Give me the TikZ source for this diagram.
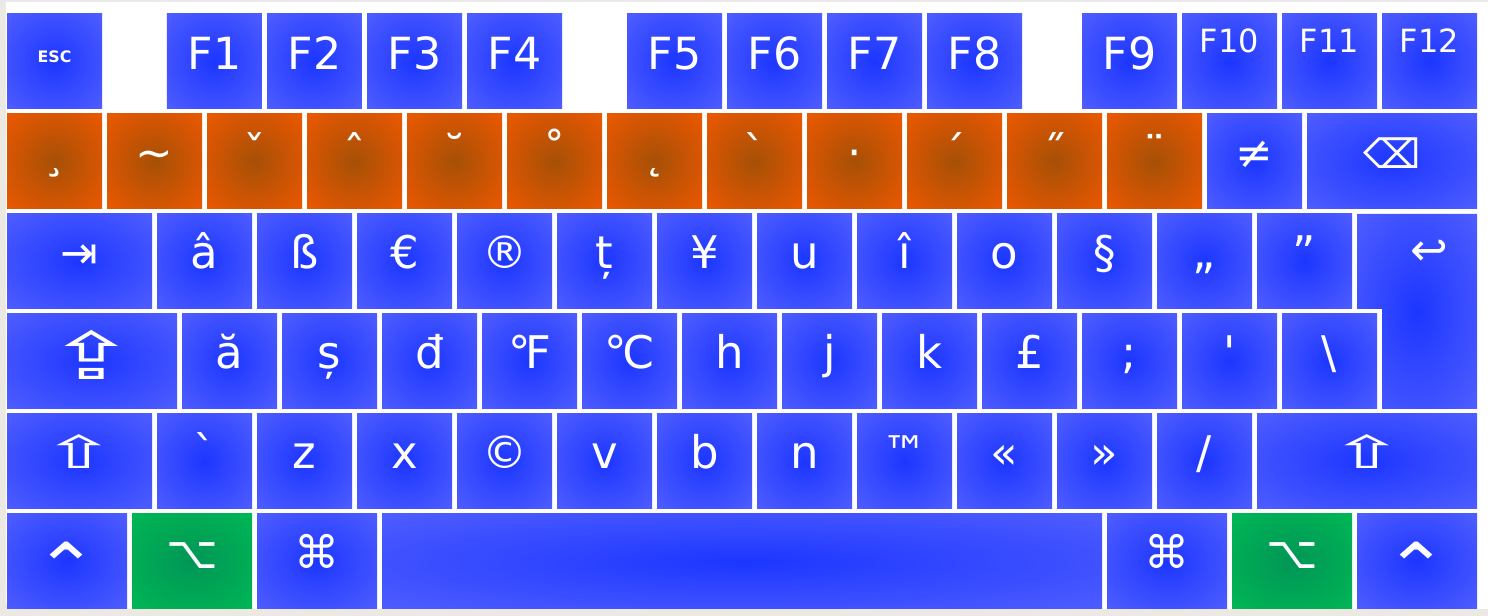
\documentclass[tikz,border=0pt]{standalone}
\usepackage{fontspec}
\setmainfont{DejaVu Sans}[Ligatures=TeXOff]
\definecolor{blueinner}{RGB}{28,54,255}
\definecolor{blueouter}{RGB}{100,110,255}
\definecolor{orginner}{RGB}{166,80,6}
\definecolor{orgouter}{RGB}{255,90,0}
\definecolor{grninner}{RGB}{0,150,86}
\definecolor{grnouter}{RGB}{0,196,84}
\definecolor{frame}{RGB}{236,232,226}
\pgfdeclareradialshading{keyblue}{\pgfpoint{0bp}{0bp}}{color(0bp)=(blueinner); color(50bp)=(blueouter)}
\pgfdeclareradialshading{keyorange}{\pgfpoint{0bp}{0bp}}{color(0bp)=(orginner); color(45bp)=(orgouter); color(50bp)=(orgouter)}
\pgfdeclareradialshading{keygreen}{\pgfpoint{0bp}{0bp}}{color(0bp)=(grninner); color(50bp)=(grnouter)}

\begin{document}
\begin{tikzpicture}[x=1cm,y=1cm,
  kb/.style={shading=keyblue},ko/.style={shading=keyorange},kg/.style={shading=keygreen},
  lbl/.style={anchor=base,inner sep=0pt,text=white,font=\fontsize{12.8}{15}\selectfont},
  fkey/.style={lbl,font=\fontsize{12.6}{15}\selectfont},
  fsmall/.style={lbl,font=\fontsize{9.1}{11}\selectfont},
  escfont/.style={lbl,font=\bfseries\fontsize{4.5}{5}\selectfont}]
\useasboundingbox (0,0) rectangle (14.88,-6.16);
% frame round the board
\fill[frame] (0,0) rectangle (14.88,-6.16);
\fill[black!9] (0,0) rectangle (14.88,-0.02);
\fill[white] (14.88,-0.02) -- (0.06,-0.02) -- (0.06,-5.9) [rounded corners=0.07cm] -- (0.06,-6.09) -- (1,-6.09) [sharp corners] -- (14.88,-6.09) -- cycle;
% function row
\shade[kb] (0.07,-0.14) rectangle (1.02,-1.09);
\node[escfont] (esc) at (0.545,-0.63) {ESC};
\shade[kb] (1.67,-0.14) rectangle (2.62,-1.09);
\node[fkey] (f1) at (2.145,-0.70) {F1};
\shade[kb] (2.67,-0.14) rectangle (3.62,-1.09);
\node[fkey] (f2) at (3.145,-0.70) {F2};
\shade[kb] (3.67,-0.14) rectangle (4.62,-1.09);
\node[fkey] (f3) at (4.145,-0.70) {F3};
\shade[kb] (4.67,-0.14) rectangle (5.62,-1.09);
\node[fkey] (f4) at (5.145,-0.70) {F4};
\shade[kb] (6.27,-0.14) rectangle (7.22,-1.09);
\node[fkey] (f5) at (6.745,-0.70) {F5};
\shade[kb] (7.27,-0.14) rectangle (8.22,-1.09);
\node[fkey] (f6) at (7.745,-0.70) {F6};
\shade[kb] (8.27,-0.14) rectangle (9.22,-1.09);
\node[fkey] (f7) at (8.745,-0.70) {F7};
\shade[kb] (9.27,-0.14) rectangle (10.22,-1.09);
\node[fkey] (f8) at (9.745,-0.70) {F8};
\shade[kb] (10.82,-0.14) rectangle (11.77,-1.09);
\node[fkey] (f9) at (11.295,-0.70) {F9};
\shade[kb] (11.82,-0.14) rectangle (12.77,-1.09);
\node[fsmall] (f10) at (12.295,-0.53) {F10};
\shade[kb] (12.82,-0.14) rectangle (13.77,-1.09);
\node[fsmall] (f11) at (13.295,-0.53) {F11};
\shade[kb] (13.82,-0.14) rectangle (14.77,-1.09);
\node[fsmall] (f12) at (14.295,-0.53) {F12};
% dead keys row
\shade[ko] (0.07,-1.14) rectangle (1.02,-2.09);
\node[lbl] (cedilla) at (0.545,-1.69) {¸};
\shade[ko] (1.07,-1.14) rectangle (2.02,-2.09);
\node[lbl] (tilde) at (1.545,-1.69) {\symbol{126}};
\shade[ko] (2.07,-1.14) rectangle (3.02,-2.09);
\node[lbl] (caron) at (2.545,-1.69) {ˇ};
\shade[ko] (3.07,-1.14) rectangle (4.02,-2.09);
\node[lbl] (circum) at (3.545,-1.69) {ˆ};
\shade[ko] (4.07,-1.14) rectangle (5.02,-2.09);
\node[lbl] (breve) at (4.545,-1.69) {˘};
\shade[ko] (5.07,-1.14) rectangle (6.02,-2.09);
\node[lbl] (ring) at (5.545,-1.69) {˚};
\shade[ko] (6.07,-1.14) rectangle (7.02,-2.09);
\node[lbl] (ogonek) at (6.545,-1.69) {˛};
\shade[ko] (7.07,-1.14) rectangle (8.02,-2.09);
\node[lbl] (grave) at (7.545,-1.69) {\symbol{96}};
\shade[ko] (8.07,-1.14) rectangle (9.02,-2.09);
\node[lbl] (middot) at (8.545,-1.69) {·};
\shade[ko] (9.07,-1.14) rectangle (10.02,-2.09);
\node[lbl] (acute) at (9.545,-1.69) {´};
\shade[ko] (10.07,-1.14) rectangle (11.02,-2.09);
\node[lbl] (dblacute) at (10.545,-1.69) {˝};
\shade[ko] (11.07,-1.14) rectangle (12.02,-2.09);
\node[lbl] (umlaut) at (11.545,-1.69) {¨};
\shade[kb] (12.07,-1.14) rectangle (13.02,-2.09);
\node[lbl] (neq) at (12.545,-1.69) {≠};
\shade[kb] (13.07,-1.14) rectangle (14.77,-2.09);
\node[lbl] (bksp) at (13.92,-1.69) {\scalebox{0.9}{⌫}};
% upper letter row
\shade[kb] (0.07,-2.14) rectangle (1.52,-3.09);
\node[lbl] (tab) at (0.795,-2.69) {⇥};
\shade[kb] (1.57,-2.14) rectangle (2.52,-3.09);
\node[lbl] (acirc) at (2.045,-2.69) {â};
\shade[kb] (2.57,-2.14) rectangle (3.52,-3.09);
\node[lbl] (eszett) at (3.045,-2.69) {ß};
\shade[kb] (3.57,-2.14) rectangle (4.52,-3.09);
\node[lbl] (euro) at (4.045,-2.69) {€};
\shade[kb] (4.57,-2.14) rectangle (5.52,-3.09);
\node[lbl] (regd) at (5.045,-2.69) {®};
\shade[kb] (5.57,-2.14) rectangle (6.52,-3.09);
\node[lbl] (tcomma) at (6.045,-2.69) {ț};
\shade[kb] (6.57,-2.14) rectangle (7.52,-3.09);
\node[lbl] (yen) at (7.045,-2.69) {¥};
\shade[kb] (7.57,-2.14) rectangle (8.52,-3.09);
\node[lbl] (u) at (8.045,-2.69) {u};
\shade[kb] (8.57,-2.14) rectangle (9.52,-3.09);
\node[lbl] (icirc) at (9.045,-2.69) {î};
\shade[kb] (9.57,-2.14) rectangle (10.52,-3.09);
\node[lbl] (o) at (10.045,-2.69) {o};
\shade[kb] (10.57,-2.14) rectangle (11.52,-3.09);
\node[lbl] (sect) at (11.045,-2.69) {§};
\shade[kb] (11.57,-2.14) rectangle (12.52,-3.09);
\node[lbl] (lowquote) at (12.045,-2.69) {„};
\shade[kb] (12.57,-2.14) rectangle (13.52,-3.09);
\node[lbl] (rquote) at (13.045,-2.69) {”};
\shade[kb] (13.57,-2.14) -- (14.77,-2.14) -- (14.77,-4.09) -- (13.82,-4.09) -- (13.82,-3.09) -- (13.57,-3.09) -- cycle;
\node[lbl] (enter) at (14.295,-2.66) {↩};
% home row
\shade[kb] (0.07,-3.14) rectangle (1.77,-4.09);
\node[lbl] (caps) at (0.92,-3.80) {\scalebox{2.4}[1.45]{⇪}};
\shade[kb] (1.82,-3.14) rectangle (2.77,-4.09);
\node[lbl] (abreve) at (2.295,-3.69) {ă};
\shade[kb] (2.82,-3.14) rectangle (3.77,-4.09);
\node[lbl] (scomma) at (3.295,-3.69) {ș};
\shade[kb] (3.82,-3.14) rectangle (4.77,-4.09);
\node[lbl] (dstroke) at (4.295,-3.69) {đ};
\shade[kb] (4.82,-3.14) rectangle (5.77,-4.09);
\node[lbl] (fahr) at (5.295,-3.69) {℉};
\shade[kb] (5.82,-3.14) rectangle (6.77,-4.09);
\node[lbl] (cels) at (6.295,-3.69) {℃};
\shade[kb] (6.82,-3.14) rectangle (7.77,-4.09);
\node[lbl] (h) at (7.295,-3.69) {h};
\shade[kb] (7.82,-3.14) rectangle (8.77,-4.09);
\node[lbl] (j) at (8.295,-3.69) {j};
\shade[kb] (8.82,-3.14) rectangle (9.77,-4.09);
\node[lbl] (k) at (9.295,-3.69) {k};
\shade[kb] (9.82,-3.14) rectangle (10.77,-4.09);
\node[lbl] (pound) at (10.295,-3.69) {£};
\shade[kb] (10.82,-3.14) rectangle (11.77,-4.09);
\node[lbl] (semi) at (11.295,-3.69) {;};
\shade[kb] (11.82,-3.14) rectangle (12.77,-4.09);
\node[lbl] (apos) at (12.295,-3.69) {\symbol{39}};
\shade[kb] (12.82,-3.14) rectangle (13.77,-4.09);
\node[lbl] (bslash) at (13.295,-3.69) {\textbackslash};
% lower letter row
\shade[kb] (0.07,-4.14) rectangle (1.52,-5.09);
\node[lbl] (lshift) at (0.795,-4.69) {\scalebox{2.0}[1.0]{⇧}};
\shade[kb] (1.57,-4.14) rectangle (2.52,-5.09);
\node[lbl] (backtick) at (2.045,-4.69) {\symbol{96}};
\shade[kb] (2.57,-4.14) rectangle (3.52,-5.09);
\node[lbl] (z) at (3.045,-4.69) {z};
\shade[kb] (3.57,-4.14) rectangle (4.52,-5.09);
\node[lbl] (x) at (4.045,-4.69) {x};
\shade[kb] (4.57,-4.14) rectangle (5.52,-5.09);
\node[lbl] (copy) at (5.045,-4.69) {©};
\shade[kb] (5.57,-4.14) rectangle (6.52,-5.09);
\node[lbl] (v) at (6.045,-4.69) {v};
\shade[kb] (6.57,-4.14) rectangle (7.52,-5.09);
\node[lbl] (b) at (7.045,-4.69) {b};
\shade[kb] (7.57,-4.14) rectangle (8.52,-5.09);
\node[lbl] (n) at (8.045,-4.69) {n};
\shade[kb] (8.57,-4.14) rectangle (9.52,-5.09);
\node[lbl] (tm) at (9.045,-4.69) {™};
\shade[kb] (9.57,-4.14) rectangle (10.52,-5.09);
\node[lbl] (laquo) at (10.045,-4.69) {«};
\shade[kb] (10.57,-4.14) rectangle (11.52,-5.09);
\node[lbl] (raquo) at (11.045,-4.69) {»};
\shade[kb] (11.57,-4.14) rectangle (12.52,-5.09);
\node[lbl] (slash) at (12.045,-4.69) {/};
\shade[kb] (12.57,-4.14) rectangle (14.77,-5.09);
\node[lbl] (rshift) at (13.67,-4.69) {\scalebox{2.0}[1.0]{⇧}};
% modifier row
\shade[kb] (0.07,-5.14) rectangle (1.27,-6.09);
\node[lbl] (lctrl) at (0.67,-5.92) {\scalebox{1.7}[1.5]{⌃}};
\shade[kg] (1.32,-5.14) rectangle (2.52,-6.09);
\node[lbl] (lopt) at (1.92,-5.69) {⌥};
\shade[kb] (2.57,-5.14) rectangle (3.77,-6.09);
\node[lbl] (lcmd) at (3.17,-5.69) {⌘};
\shade[kb] (3.82,-5.14) rectangle (11.02,-6.09);
\shade[kb] (11.07,-5.14) rectangle (12.27,-6.09);
\node[lbl] (rcmd) at (11.67,-5.69) {⌘};
\shade[kg] (12.32,-5.14) rectangle (13.52,-6.09);
\node[lbl] (ropt) at (12.92,-5.69) {⌥};
\shade[kb] (13.57,-5.14) rectangle (14.77,-6.09);
\node[lbl] (rctrl) at (14.17,-5.92) {\scalebox{1.7}[1.5]{⌃}};
\end{tikzpicture}
\end{document}
